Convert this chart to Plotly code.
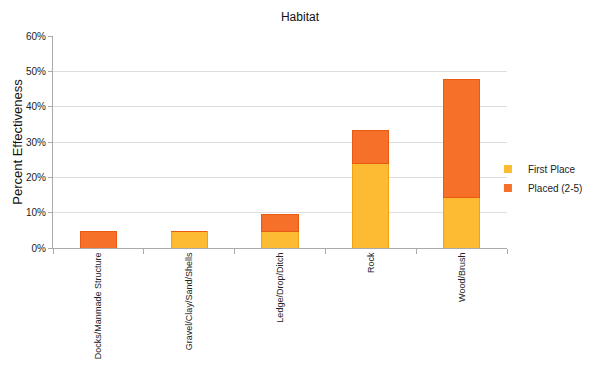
import plotly.graph_objects as go

categories = ["Docks/Manmade Structure", "Gravel/Clay/Sand/Shells", "Ledge/Drop/Ditch", "Rock", "Wood/Brush"]
first_place = [0, 4.76, 4.76, 23.81, 14.29]
placed_2_5 = [4.76, 0, 4.76, 9.52, 33.33]
series_names = ["First Place", "Placed (2-5)"]
y_ticks = [0, 10, 20, 30, 40, 50, 60]
y_tick_labels = ["0%", "10%", "20%", "30%", "40%", "50%", "60%"]

c_first, c_first_line = "#FDBB34", "#F0A010"
c_placed, c_placed_line = "#F7702A", "#E85A10"

fig = go.Figure()
fig.add_trace(go.Bar(
    x=categories, y=first_place, name=series_names[0], showlegend=False,
    marker=dict(color=c_first, line=dict(color=c_first_line, width=1)),
    width=0.4,
))
fig.add_trace(go.Bar(
    x=categories, y=placed_2_5, name=series_names[1], showlegend=False,
    marker=dict(color=c_placed, line=dict(color=c_placed_line, width=1)),
    width=0.4,
))
# legend proxies with small square swatches
for name, col in zip(series_names, [c_first, c_placed]):
    fig.add_trace(go.Scatter(
        x=[None], y=[None], mode="markers", name=name,
        marker=dict(symbol="square", size=8, color=col),
    ))

fig.update_layout(
    barmode="stack",
    width=592, height=366,
    margin=dict(l=45, r=91, t=28, b=126),
    paper_bgcolor="white", plot_bgcolor="white",
    font=dict(family="Liberation Sans, Arial, sans-serif", color="#222"),
    title=dict(text="Habitat", x=0.4932, xanchor="center", y=0.975, yanchor="middle",
               font=dict(size=12, color="#111")),
    legend=dict(x=0.958, xanchor="left", y=0.441, yanchor="top",
                font=dict(size=10, color="#222"), bgcolor="rgba(0,0,0,0)",
                itemwidth=30, tracegroupgap=0, traceorder="normal"),
    showlegend=True,
)
fig.update_xaxes(
    tickangle=-90, tickfont=dict(size=9, color="#222"), automargin=False,
    showline=True, linecolor="#aaaaaa", linewidth=1,
    ticks="outside", tickson="boundaries", ticklen=5, tickcolor="#aaaaaa",
    showgrid=False,
)
fig.update_yaxes(
    range=[0, 60], tickvals=y_ticks, ticktext=y_tick_labels, automargin=False,
    tickfont=dict(size=10, color="#222"),
    showline=True, linecolor="#aaaaaa", linewidth=1,
    ticks="outside", ticklen=4, tickcolor="#aaaaaa",
    showgrid=True, gridcolor="#dddddd", gridwidth=1,
    title=dict(text="Percent Effectiveness", font=dict(size=13, color="#111"), standoff=0),
    zeroline=False,
)

fig.write_html("out.html")
